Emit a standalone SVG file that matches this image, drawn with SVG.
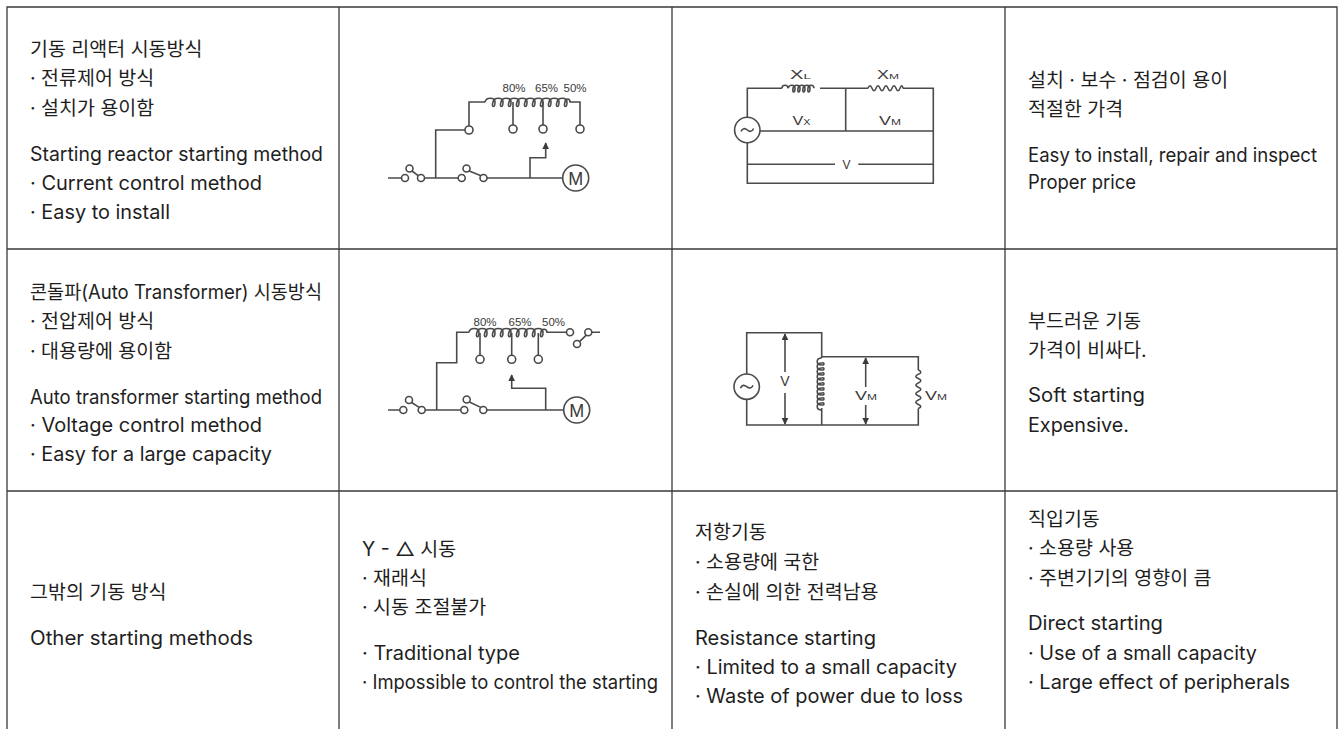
<svg xmlns="http://www.w3.org/2000/svg" width="1338" height="729" viewBox="0 0 1338 729">
<style>
.t{font-family:Inter,"Noto Sans CJK KR",sans-serif;font-size:19.5px;fill:#1e1e1e}
.g{stroke:#3a3a3a;stroke-width:1.3;fill:none}
.c{stroke:#4a4a4a;stroke-width:1.6;fill:none}
.cf{stroke:#4a4a4a;stroke-width:1.6;fill:#fff}
.ct{font-family:"Liberation Sans",Arial,sans-serif;fill:#3a3a3a}
</style>
<defs>
<marker id="ah" viewBox="0 0 10 10" refX="9" refY="5" markerWidth="7" markerHeight="7" markerUnits="userSpaceOnUse" orient="auto"><path d="M0,0 L10,5 L0,10 z" fill="#3a3a3a"/></marker>
</defs>
<rect width="1338" height="729" fill="#fff"/>
<g id="grid">
<path class="g" d="M7,729 V7 H1337 V729 M339,7 V729 M672,7 V729 M1005,7 V729 M7,249 H1337 M7,491 H1337"/>
</g>
<g id="r1c1">
<text class="t" x="30" y="55.5">기동 리액터 시동방식</text>
<text class="t" x="30" y="85">· 전류제어 방식</text>
<text class="t" x="30" y="114.5">· 설치가 용이함</text>
<text class="t" x="30" y="160.5" textLength="293" lengthAdjust="spacingAndGlyphs">Starting reactor starting method</text>
<text class="t" x="30" y="190" textLength="232" lengthAdjust="spacingAndGlyphs">· Current control method</text>
<text class="t" x="30" y="219" textLength="140" lengthAdjust="spacingAndGlyphs">· Easy to install</text>
</g>
<g id="r1c2">
<path class="c" d="M388,178 H401.5 M424.5,178 H458 M487,178 H562.7"/>
<circle class="cf" cx="405" cy="178" r="3.5"/><circle class="cf" cx="421" cy="178" r="3.5"/><circle class="cf" cx="409.5" cy="168.5" r="3.5"/>
<path class="c" d="M412,171 L418.5,175.8"/>
<circle class="cf" cx="461.7" cy="178" r="3.5"/><circle class="cf" cx="483.5" cy="178" r="3.5"/><circle class="cf" cx="466.5" cy="168.5" r="3.5"/>
<path class="c" d="M469.2,171 L481,175.8"/>
<path class="c" d="M435.7,178 V130 H465 M469,126 V102 H485"/>
<circle class="cf" cx="469" cy="130" r="4"/>
<path class="c" d="M485,102 c1,-5 10,-5 10,0 c0,6 -4,6 -2,0 c1,-5 10,-5 10,0 c0,6 -4,6 -2,0 c1,-5 10,-5 10,0 c0,6 -4,6 -2,0 c1,-5 10,-5 10,0 c0,6 -4,6 -2,0 c1,-5 10,-5 10,0 c0,6 -4,6 -2,0 c1,-5 10,-5 10,0 c0,6 -4,6 -2,0 c1,-5 10,-5 10,0 c0,6 -4,6 -2,0 c1,-5 10,-5 10,0 c0,6 -4,6 -2,0 c1,-5 10,-5 10,0 c0,6 -4,6 -2,0 c1,-5 10,-5 10,0 c0,6 -4,6 -2,0 c0,-4 5,-4 5,0 H580 V125"/>
<path class="c" d="M513,102 V125 M543,102 V125"/>
<circle class="cf" cx="513" cy="129" r="4"/><circle class="cf" cx="543" cy="129" r="4"/><circle class="cf" cx="580" cy="129" r="4"/>
<path class="c" d="M530,178 V157.7 H545.7 V143" marker-end="url(#ah)"/>
<circle class="cf" cx="575.7" cy="178" r="13"/>
<text class="ct" x="575.7" y="184.5" font-size="18" text-anchor="middle">M</text>
<text class="ct" x="514" y="92" font-size="11.5" text-anchor="middle">80%</text>
<text class="ct" x="546.5" y="92" font-size="11.5" text-anchor="middle">65%</text>
<text class="ct" x="575" y="92" font-size="11.5" text-anchor="middle">50%</text>
</g>
<g id="r1c3">
<path class="c" d="M747.3,117.3 V88.3 H782 M820,88.3 H868 M903,88.3 H933.3 V183.3 H747.3 V142.7 M845.7,88.3 V131 M760,131 H933.3 M747.3,164.3 H835 M858.3,164.3 H933.3"/>
<path class="c" d="M782,88.3 c0,-4 6,-4 6,0 c1,-4 7,-4 7,0 c0,5 -3,5 -2,0 c1,-4 7,-4 7,0 c0,5 -3,5 -2,0 c1,-4 7,-4 7,0 c0,5 -3,5 -2,0 c1,-4 7,-4 7,0 c0,5 -3,5 -2,0 c0,-4 6,-4 6,0"/>
<path class="c" d="M868,88.3 q2,-5 4,0 t4,0 t4,0 t4,0 t4,0 t4,0 t4,0 t4,0 t3,0"/>
<circle class="cf" cx="747.3" cy="130" r="12.7"/>
<path class="c" d="M741,131.5 c1.5,-3.5 4,-3.5 6.3,-1.5 s4.8,2 6.3,-1.5"/>
<text class="ct" x="790" y="79" font-size="12" textLength="21" lengthAdjust="spacingAndGlyphs">X<tspan font-size="8">L</tspan></text>
<text class="ct" x="877" y="79" font-size="12" textLength="22" lengthAdjust="spacingAndGlyphs">X<tspan font-size="8">M</tspan></text>
<text class="ct" x="792.5" y="125" font-size="13.5" textLength="18" lengthAdjust="spacingAndGlyphs">V<tspan font-size="9">X</tspan></text>
<text class="ct" x="879" y="125" font-size="13.5" textLength="22" lengthAdjust="spacingAndGlyphs">V<tspan font-size="9">M</tspan></text>
<text class="ct" x="846.5" y="169" font-size="12" text-anchor="middle">V</text>
</g>
<g id="r1c4">
<text class="t" x="1028" y="87">설치 · 보수 · 점검이 용이</text>
<text class="t" x="1028" y="116">적절한 가격</text>
<text class="t" x="1028" y="162" textLength="289" lengthAdjust="spacingAndGlyphs">Easy to install, repair and inspect</text>
<text class="t" x="1028" y="188.5" textLength="108" lengthAdjust="spacingAndGlyphs">Proper price</text>
</g>
<g id="r2c1">
<text class="t" x="30" y="298.5" textLength="292" lengthAdjust="spacingAndGlyphs">콘돌파(Auto Transformer) 시동방식</text>
<text class="t" x="30" y="328">· 전압제어 방식</text>
<text class="t" x="30" y="357.5">· 대용량에 용이함</text>
<text class="t" x="30" y="403.5" textLength="292" lengthAdjust="spacingAndGlyphs">Auto transformer starting method</text>
<text class="t" x="30" y="432" textLength="232" lengthAdjust="spacingAndGlyphs">· Voltage control method</text>
<text class="t" x="30" y="460.5" textLength="242" lengthAdjust="spacingAndGlyphs">· Easy for a large capacity</text>
</g>
<g id="r2c2">
<path class="c" d="M388,410 H399.8 M425.2,410 H460.8 M486.8,410 H563.7"/>
<circle class="cf" cx="403.3" cy="410" r="3.5"/><circle class="cf" cx="421.7" cy="410" r="3.5"/><circle class="cf" cx="409" cy="400" r="3.5"/>
<path class="c" d="M411.6,402.5 L419.2,407.4"/>
<circle class="cf" cx="464.3" cy="410" r="3.5"/><circle class="cf" cx="483.3" cy="410" r="3.5"/><circle class="cf" cx="466.7" cy="399.5" r="3.5"/>
<path class="c" d="M469.4,402 L480.8,407.4"/>
<path class="c" d="M436.7,410 V362.7 H456.7 V332.3 H469"/>
<path class="c" d="M469,332.3 c1,-5 10,-5 10,0 c0,6 -4,6 -2,0 c1,-5 10,-5 10,0 c0,6 -4,6 -2,0 c1,-5 10,-5 10,0 c0,6 -4,6 -2,0 c1,-5 10,-5 10,0 c0,6 -4,6 -2,0 c1,-5 10,-5 10,0 c0,6 -4,6 -2,0 c1,-5 10,-5 10,0 c0,6 -4,6 -2,0 c1,-5 10,-5 10,0 c0,6 -4,6 -2,0 c1,-5 10,-5 10,0 c0,6 -4,6 -2,0 c1,-5 10,-5 10,0 c0,6 -4,6 -2,0 c0,-4 6,-4 6,0 H566.5"/>
<circle class="cf" cx="570" cy="332.3" r="3.5"/><circle class="cf" cx="588.3" cy="332.3" r="3.5"/>
<path class="c" d="M591.8,332.3 H600 M586.3,335.2 L579.5,341.6"/>
<circle class="cf" cx="577" cy="344" r="3.5"/>
<path class="c" d="M480,333 V355.5 M511.7,333 V355.5 M538.3,333 V355.5"/>
<circle class="cf" cx="480" cy="359.3" r="4"/><circle class="cf" cx="511.7" cy="359.3" r="4"/><circle class="cf" cx="538.3" cy="359.3" r="4"/>
<path class="c" d="M545.7,410 V388.3 H511.7 V375" marker-end="url(#ah)"/>
<circle class="cf" cx="576.7" cy="410" r="13"/>
<text class="ct" x="576.7" y="416.5" font-size="18" text-anchor="middle">M</text>
<text class="ct" x="485" y="326" font-size="11.5" text-anchor="middle">80%</text>
<text class="ct" x="520" y="326" font-size="11.5" text-anchor="middle">65%</text>
<text class="ct" x="553.5" y="326" font-size="11.5" text-anchor="middle">50%</text>
</g>
<g id="r2c3">
<path class="c" d="M746.7,374 V332.7 H821.7 V358 M746.7,399.4 V425 H918.3 V408.5 M821.7,356.7 H918.3 V370 M821.7,408 V425"/>
<path class="c" d="M821.7,358 c-6,0 -6,7 0,7 c3,0 3,-3 0,-2 c-6,0 -6,7 0,7 c3,0 3,-3 0,-2 c-6,0 -6,7 0,7 c3,0 3,-3 0,-2 c-6,0 -6,7 0,7 c3,0 3,-3 0,-2 c-6,0 -6,7 0,7 c3,0 3,-3 0,-2 c-6,0 -6,7 0,7 c3,0 3,-3 0,-2 c-6,0 -6,7 0,7 c3,0 3,-3 0,-2 c-6,0 -6,7 0,7 c3,0 3,-3 0,-2 c-6,0 -6,7 0,7 c3,0 3,-3 0,-2 c-6,0 -6,7 0,7"/>
<path class="c" d="M918.3,370 q5,2.1 0,4.3 t0,4.3 t0,4.3 t0,4.3 t0,4.3 t0,4.3 t0,4.3 t0,4.3 t0,4.1"/>
<circle class="cf" cx="746.7" cy="386.7" r="12.7"/>
<path class="c" d="M740.4,388.2 c1.5,-3.5 4,-3.5 6.3,-1.5 s4.8,2 6.3,-1.5"/>
<path class="c" d="M785,372 V334" marker-end="url(#ah)"/>
<path class="c" d="M785,393 V424" marker-end="url(#ah)"/>
<path class="c" d="M865.7,387 V358" marker-end="url(#ah)"/>
<path class="c" d="M865.7,405 V424" marker-end="url(#ah)"/>
<text class="ct" x="785" y="386" font-size="14" text-anchor="middle">V</text>
<text class="ct" x="855" y="400" font-size="13.5" textLength="22" lengthAdjust="spacingAndGlyphs">V<tspan font-size="9">M</tspan></text>
<text class="ct" x="925" y="400" font-size="13.5" textLength="22" lengthAdjust="spacingAndGlyphs">V<tspan font-size="9">M</tspan></text>
</g>
<g id="r2c4">
<text class="t" x="1028" y="327.5">부드러운 기동</text>
<text class="t" x="1028" y="356.5">가격이 비싸다.</text>
<text class="t" x="1028" y="402" textLength="117" lengthAdjust="spacingAndGlyphs">Soft starting</text>
<text class="t" x="1028" y="431.5" textLength="101" lengthAdjust="spacingAndGlyphs">Expensive.</text>
</g>
<g id="r3c1">
<text class="t" x="30" y="598.5">그밖의 기동 방식</text>
<text class="t" x="30" y="644.5" textLength="223" lengthAdjust="spacingAndGlyphs">Other starting methods</text>
</g>
<g id="r3c2">
<text class="t" x="362" y="555.5">Y - △ 시동</text>
<text class="t" x="362" y="584.5">· 재래식</text>
<text class="t" x="362" y="613.5">· 시동 조절불가</text>
<text class="t" x="362" y="659.5" textLength="158" lengthAdjust="spacingAndGlyphs">· Traditional type</text>
<text class="t" x="362" y="688.5" textLength="296" lengthAdjust="spacingAndGlyphs">· Impossible to control the starting</text>
</g>
<g id="r3c3">
<text class="t" x="695" y="538.5">저항기동</text>
<text class="t" x="695" y="569">· 소용량에 국한</text>
<text class="t" x="695" y="599">· 손실에 의한 전력남용</text>
<text class="t" x="695" y="644.5" textLength="181" lengthAdjust="spacingAndGlyphs">Resistance starting</text>
<text class="t" x="695" y="673.5" textLength="262" lengthAdjust="spacingAndGlyphs">· Limited to a small capacity</text>
<text class="t" x="695" y="702.5" textLength="268" lengthAdjust="spacingAndGlyphs">· Waste of power due to loss</text>
</g>
<g id="r3c4">
<text class="t" x="1028" y="525.5">직입기동</text>
<text class="t" x="1028" y="554.5">· 소용량 사용</text>
<text class="t" x="1028" y="584.5">· 주변기기의 영향이 큼</text>
<text class="t" x="1028" y="629.5" textLength="135" lengthAdjust="spacingAndGlyphs">Direct starting</text>
<text class="t" x="1028" y="659.5" textLength="229" lengthAdjust="spacingAndGlyphs">· Use of a small capacity</text>
<text class="t" x="1028" y="688.5" textLength="262" lengthAdjust="spacingAndGlyphs">· Large effect of peripherals</text>
</g>
</svg>
